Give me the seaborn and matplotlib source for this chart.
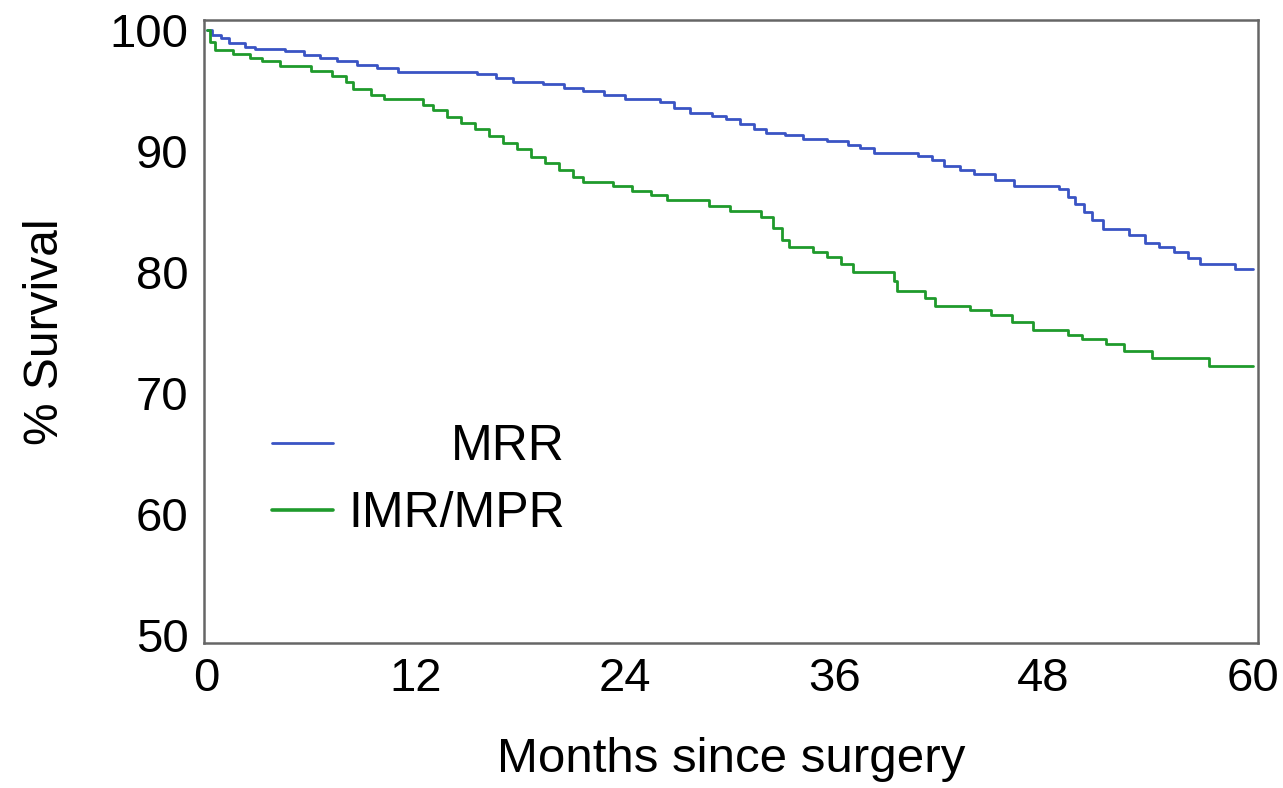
import numpy as np
import pandas as pd
import matplotlib
matplotlib.use("Agg")
import matplotlib.pyplot as plt
import seaborn as sns

# Kaplan-Meier step change points
mrr_months = [0, 0.3, 0.8, 1.3, 2.2, 2.8, 4.5, 5.6, 6.5, 7.5, 8.6, 9.8, 11.0, 15.5, 16.6,
              17.6, 19.3, 20.5, 21.6, 22.8, 24.0, 26.0, 26.8, 27.7, 29.0, 29.8, 30.6, 31.4,
              32.1, 33.2, 34.2, 35.6, 36.8, 37.5, 38.3, 40.8, 41.6, 42.3, 43.2, 44.0, 45.2,
              46.3, 48.9, 49.4, 49.8, 50.3, 50.8, 51.4, 52.9, 53.8, 54.6, 55.5, 56.3, 57.0,
              59.0, 60.0]
mrr_surv = [100, 99.6, 99.3, 98.9, 98.6, 98.4, 98.2, 97.9, 97.7, 97.4, 97.1, 96.8, 96.5, 96.3,
            96.0, 95.7, 95.5, 95.2, 94.9, 94.6, 94.3, 94.0, 93.5, 93.1, 92.9, 92.6, 92.2, 91.8,
            91.5, 91.3, 91.0, 90.8, 90.5, 90.2, 89.8, 89.6, 89.2, 88.7, 88.4, 88.1, 87.6, 87.1,
            86.8, 86.2, 85.6, 84.9, 84.3, 83.5, 83.0, 82.4, 82.0, 81.6, 81.1, 80.6, 80.2, 80.2]

imr_months = [0, 0.2, 0.5, 1.5, 2.5, 3.2, 4.2, 6.0, 7.2, 8.0, 8.4, 9.4, 10.2, 12.4, 13.0, 13.8,
              14.6, 15.4, 16.2, 17.0, 17.8, 18.6, 19.4, 20.2, 21.0, 21.6, 23.3, 24.4, 25.5,
              26.4, 28.8, 30.0, 31.8, 32.5, 33.0, 33.4, 34.8, 35.6, 36.4, 37.1, 39.4, 39.6,
              41.2, 41.8, 43.8, 45.0, 46.2, 47.4, 49.4, 50.2, 51.6, 52.6, 54.2, 57.5, 60.0]
imr_surv = [100, 99.0, 98.3, 98.0, 97.7, 97.4, 97.0, 96.6, 96.2, 95.7, 95.1, 94.6, 94.3, 93.8,
            93.4, 92.8, 92.3, 91.8, 91.2, 90.6, 90.1, 89.5, 89.0, 88.4, 87.8, 87.4, 87.1, 86.7,
            86.3, 85.9, 85.4, 85.0, 84.5, 83.6, 82.6, 82.0, 81.6, 81.2, 80.6, 80.0, 79.2, 78.4,
            77.8, 77.2, 76.8, 76.4, 75.8, 75.2, 74.8, 74.4, 74.0, 73.4, 72.9, 72.2, 72.2]

groups = ["MRR", "IMR/MPR"]
colors = {"MRR": "#3a54c4", "IMR/MPR": "#1f9a2c"}
x_ticks = [0, 12, 24, 36, 48, 60]
y_ticks = [50, 60, 70, 80, 90, 100]

df = pd.concat([
    pd.DataFrame({"month": mrr_months, "surv": mrr_surv, "group": "MRR"}),
    pd.DataFrame({"month": imr_months, "surv": imr_surv, "group": "IMR/MPR"}),
], ignore_index=True)

sns.set_theme(style="white")
plt.rcParams["font.family"] = ["Liberation Sans", "DejaVu Sans"]
plt.rcParams["axes.labelcolor"] = "black"
plt.rcParams["text.color"] = "black"

fig = plt.figure(figsize=(12.83, 7.88), dpi=100)
ax = fig.add_axes([0.159, 0.184, 0.8215, 0.7906])

sns.lineplot(data=df, x="month", y="surv", hue="group", hue_order=groups,
             palette=colors, estimator=None, drawstyle="steps-post",
             linewidth=2.0, legend=False, ax=ax)

ax.set_xlim(-0.15, 60.3)
ax.set_ylim(49.3, 100.8)
ax.set_xticks(x_ticks)
ax.set_yticks(y_ticks)
ax.tick_params(axis="both", direction="in", length=5, width=1.2, color="#555555",
               labelsize=34, labelcolor="black")
ax.tick_params(axis="y", pad=11)
ax.tick_params(axis="x", pad=10)
for sp in ax.spines.values():
    sp.set_visible(True)
    sp.set_color("#666666")
    sp.set_linewidth(1.8)

ax.set_xlabel("Months since surgery", fontsize=35.5, labelpad=26, color="black")
ax.set_ylabel("% Survival", fontsize=34.5, labelpad=30, color="black")

# legend (handle on the left, labels right-aligned)
leg_y = [0.321, 0.2135]
for g, yy in zip(groups, leg_y):
    ax.plot([0.0645, 0.1224], [yy, yy], transform=ax.transAxes, color=colors[g],
            linewidth=2.0 if g == "MRR" else 2.6)
    ax.text(0.3425, yy - 0.006, g, transform=ax.transAxes, ha="right", va="center",
            fontsize=36, color="black")

fig.savefig("out.png", dpi=100)
